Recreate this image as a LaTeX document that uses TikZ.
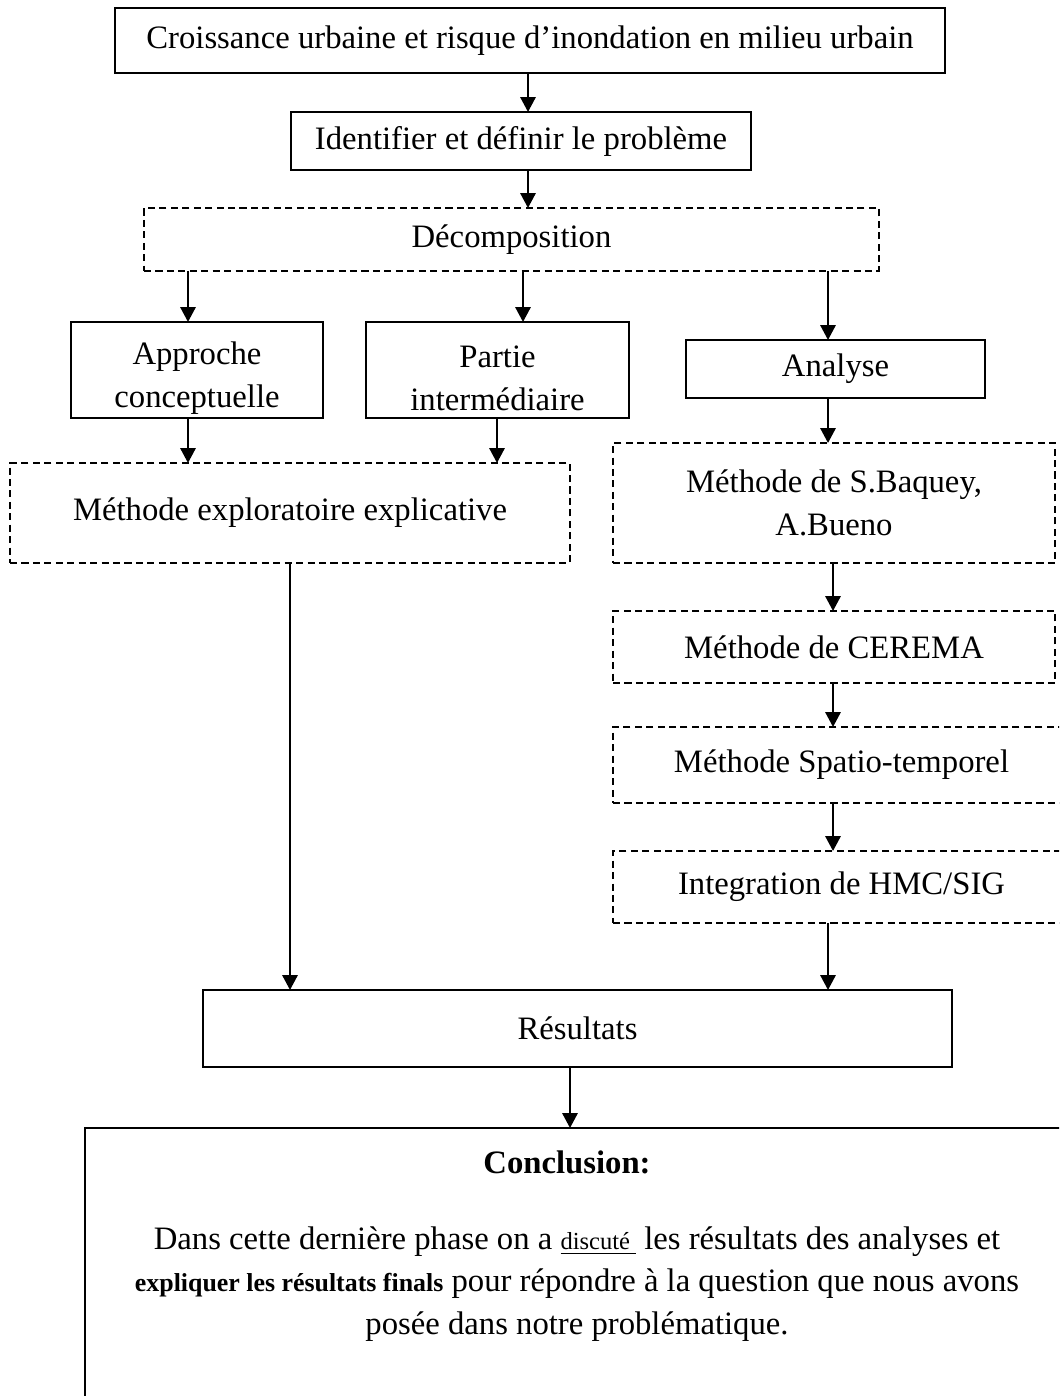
\documentclass[tikz,border=0pt]{standalone}
\usepackage{fontspec}
\setmainfont{Liberation Serif}
\usetikzlibrary{arrows.meta}
\newcommand{\px}{0.367pt}

\begin{document}
\begin{tikzpicture}[x=\px,y=-\px,
		every node/.style={inner sep=0pt,outer sep=0pt,align=center,font=\fontsize{12}{15.8}\selectfont},
		boxsize/.style 2 args={minimum width=#1*\px,minimum height=#2*\px},
		solidbox/.style={draw,line width=0.75pt},
		dashbox/.style={draw,line width=0.75pt,dash pattern=on 2.6pt off 1.6pt},
		arr/.style={-{Triangle[length=5.5pt,width=5.6pt]},line width=0.9pt}]
		\useasboundingbox (0,0) rectangle (1059,1396);
		\clip (0,0) rectangle (1059,1396);
		\node[solidbox,boxsize={830}{65}] (top) at (530,40.5) {Croissance urbaine et risque d’inondation en milieu urbain};
		\node[solidbox,boxsize={460}{58}] (idf) at (521,141) {Identifier et définir le problème};
		\node[dashbox,boxsize={735}{63}] (dec) at (511.5,239.5) {Décomposition};
		\node[solidbox,boxsize={252}{96}] (appr) at (197,370) {\rule{0pt}{14pt}Approche\\conceptuelle};
		\node[solidbox,boxsize={263}{96}] (part) at (497.5,370) {\rule{0pt}{14pt}Partie\\intermédiaire};
		\node[solidbox,boxsize={299}{58}] (ana) at (835.5,369) {Analyse};
		\node[dashbox,boxsize={560}{100}] (expl) at (290,513) {Méthode exploratoire explicative};
		\node[dashbox,boxsize={442}{120}] (baq) at (834,503) {Méthode de S.Baquey,\\A.Bueno};
		\node[dashbox,boxsize={442}{72}] (cer) at (834,647) {Méthode de CEREMA};
		\node[dashbox,boxsize={457}{76}] (spa) at (841.5,765) {Méthode Spatio-temporel};
		\node[dashbox,boxsize={457}{72}] (hmc) at (841.5,887) {Integration de HMC/SIG};
		\node[solidbox,boxsize={749}{77}] (res) at (577.5,1028.5) {Résultats};
		\node[solidbox,boxsize={990}{300},anchor=north west] (concl) at (85,1128) {};
		\node[font=\fontsize{12}{15.8}\selectfont\bfseries] (cltitle) at (567,1162) {Conclusion:};
		\node[font=\fontsize{12}{15.6}\selectfont] (cltext) at (577,1284) {Dans cette dernière phase on a \underline{\fontsize{9}{11}\selectfont discuté\ } les résultats des analyses et\\{\fontsize{9.5}{15.6}\selectfont\bfseries expliquer les résultats finals} pour répondre à la question que nous avons\\posée dans notre problématique.};
		\coordinate (xtop) at (528,0);
		\coordinate (xA) at (188,0);
		\coordinate (xB) at (523,0);
		\coordinate (xB2) at (497,0);
		\coordinate (xC) at (828,0);
		\coordinate (xD) at (833,0);
		\coordinate (xE) at (290,0);
		\coordinate (xF) at (570,0);
		\draw[arr] (xtop |- top.south) -- (xtop |- idf.north);
		\draw[arr] (xtop |- idf.south) -- (xtop |- dec.north);
		\draw[arr] (xA |- dec.south) -- (xA |- appr.north);
		\draw[arr] (xB |- dec.south) -- (xB |- part.north);
		\draw[arr] (xC |- dec.south) -- (xC |- ana.north);
		\draw[arr] (xA |- appr.south) -- (xA |- expl.north);
		\draw[arr] (xB2 |- part.south) -- (xB2 |- expl.north);
		\draw[arr] (xC |- ana.south) -- (xC |- baq.north);
		\draw[arr] (xD |- baq.south) -- (xD |- cer.north);
		\draw[arr] (xD |- cer.south) -- (xD |- spa.north);
		\draw[arr] (xD |- spa.south) -- (xD |- hmc.north);
		\draw[arr] (xE |- expl.south) -- (xE |- res.north);
		\draw[arr] (xC |- hmc.south) -- (xC |- res.north);
		\draw[arr] (xF |- res.south) -- (xF |- concl.north);
	\end{tikzpicture}
\end{document}
